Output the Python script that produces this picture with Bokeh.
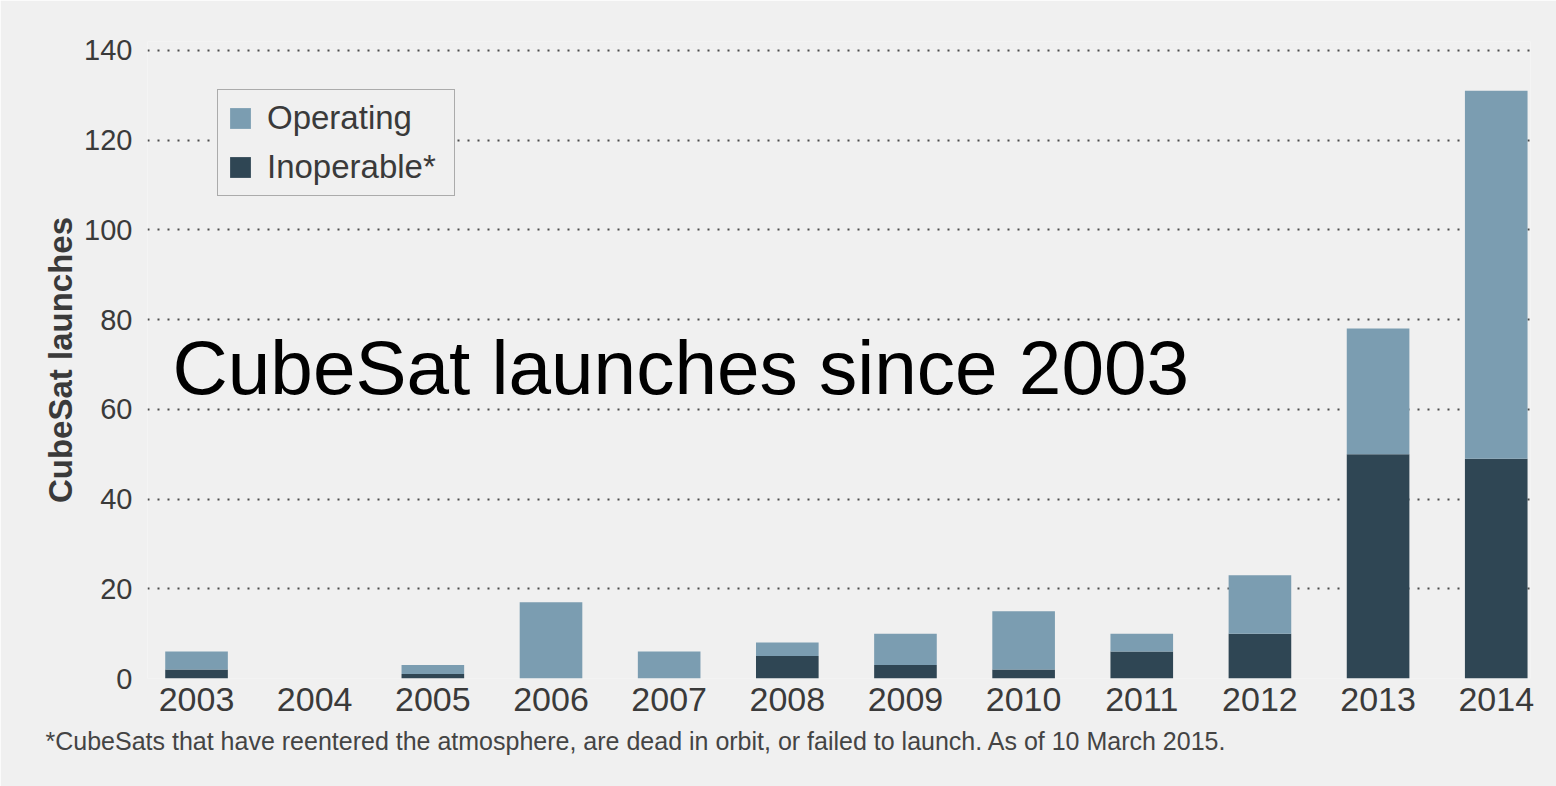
from bokeh.plotting import figure
from bokeh.models import ColumnDataSource, Range1d, FixedTicker, Legend, LegendItem, Label, Title
from bokeh.embed import file_html
from bokeh.resources import INLINE

years = [2003, 2004, 2005, 2006, 2007, 2008, 2009, 2010, 2011, 2012, 2013, 2014]
inoperable = [2, 0, 1, 0, 0, 5, 3, 2, 6, 10, 50, 49]
operating = [4, 0, 2, 17, 6, 3, 7, 13, 4, 13, 28, 82]
y_ticks = [0, 20, 40, 60, 80, 100, 120, 140]

BG = "#f0f0f0"
C_OP = "#7b9db1"
C_IN = "#2f4654"
TXT = "#3a3a3a"
FONT = "Liberation Sans"

src = ColumnDataSource(dict(year=years, Inoperable=inoperable, Operating=operating))

p = figure(width=1556, height=786, output_backend="svg", toolbar_location=None,
           x_range=Range1d(2002.585, 2014.29), y_range=Range1d(0, 142),
           background_fill_color=BG, border_fill_color=BG,
           min_border_left=147, min_border_right=26, min_border_top=41, min_border_bottom=108)
p.outline_line_color = None

r = p.vbar_stack(["Inoperable", "Operating"], x="year", width=0.53, source=src,
                 color=[C_IN, C_OP], line_color=None)

p.xgrid.grid_line_color = None
p.ygrid.grid_line_color = "#4a4a4a"
p.ygrid.grid_line_dash = "2 8"
p.ygrid.grid_line_width = 2
p.ygrid.ticker = FixedTicker(ticks=y_ticks)

p.xaxis.ticker = FixedTicker(ticks=years)
p.yaxis.ticker = FixedTicker(ticks=y_ticks)
for ax in (p.xaxis[0], p.yaxis[0]):
    ax.axis_line_color = None
    ax.major_tick_line_color = None
    ax.minor_tick_line_color = None
    ax.major_label_text_font = FONT
    ax.major_label_text_color = TXT
p.xaxis.major_label_text_font_size = "34px"
p.yaxis.major_label_text_font_size = "29px"
p.xaxis.major_label_standoff = 3
p.yaxis.major_label_standoff = 9
p.yaxis.axis_label = "CubeSat launches"
p.yaxis.axis_label_text_font = FONT
p.yaxis.axis_label_text_font_style = "bold"
p.yaxis.axis_label_text_font_size = "33px"
p.yaxis.axis_label_text_color = TXT
p.yaxis.axis_label_standoff = 2

legend = Legend(items=[LegendItem(label="Operating", renderers=[r[1]]),
                       LegendItem(label="Inoperable*", renderers=[r[0]])],
                location=(70, 482), margin=0, padding=9, spacing=11,
                glyph_width=26, glyph_height=26, label_height=32, label_standoff=14,
                label_width=178,
                label_text_font=FONT, label_text_font_size="33px", label_text_color=TXT,
                background_fill_color=BG, background_fill_alpha=1,
                border_line_color="#666666", border_line_width=1.5)
p.add_layout(legend, "center")

title = Label(x=2002.797, y=69.3, text="CubeSat launches since 2003",
              text_font=FONT, text_font_size="76.5px", text_color="black",
              text_baseline="alphabetic")
p.add_layout(title)

foot = Title(text="*CubeSats that have reentered the atmosphere, are dead in orbit, or failed to launch. As of 10 March 2015.",
             align="left", offset=-102, standoff=23,
             text_font=FONT, text_font_size="25px", text_color="#444444",
             text_font_style="normal")
p.add_layout(foot, "below")

open("out.html", "w").write(file_html(p, INLINE))
